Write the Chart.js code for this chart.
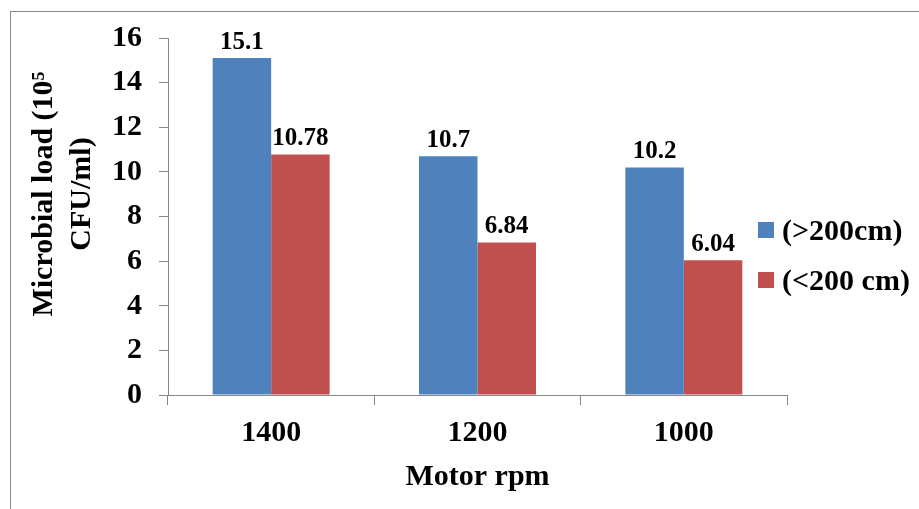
<!DOCTYPE html>
<html>
<head>
<meta charset="utf-8">
<script src="https://cdn.jsdelivr.net/npm/chart.js@4.4.1/dist/chart.umd.min.js"></script>
<style>
  body { margin: 0; background: #fff; }
  #wrap { position: relative; width: 919px; height: 509px; overflow: hidden; }
  #frame { position: absolute; left: 10px; top: 11px; width: 1000px; height: 600px; border: 1.5px solid #8c8c8c; }
  canvas { position: absolute; left: 0; top: 0; }
</style>
</head>
<body>
<div id="wrap">
  <div id="frame"></div>
  <canvas id="rpmChart" width="919" height="509"></canvas>
</div>
<script>
// data
const rpmLabels = ['1400', '1200', '1000'];
const above200 = [15.1, 10.7, 10.2];
const below200 = [10.78, 6.84, 6.04];
const seriesNames = ['(>200cm)', '(<200 cm)'];
const yMin = 0, yMax = 16, yStep = 2;

const serif = '"Liberation Serif", "Times New Roman", serif';
const axisGrey = '#868686';

Chart.defaults.color = '#000';
Chart.defaults.font.family = serif;
Chart.defaults.font.weight = 'bold';

// value labels on top of each bar
const barValues = {
    id: 'barValues',
    afterDatasetsDraw(chart) {
        const ctx = chart.ctx;
        ctx.save();
        ctx.font = 'bold 25px ' + serif;
        ctx.fillStyle = '#000';
        ctx.textAlign = 'center';
        ctx.textBaseline = 'alphabetic';
        chart.data.datasets.forEach((ds, i) => {
            chart.getDatasetMeta(i).data.forEach((bar, j) => {
                ctx.fillText(String(ds.data[j]), bar.x, bar.y - 9);
            });
        });
        ctx.restore();
    }
};

// legend sits over the right end of the plot, like the Excel original
const sideLegend = {
    id: 'sideLegend',
    afterDraw(chart) {
        const ctx = chart.ctx;
        const area = chart.chartArea;
        ctx.save();
        ctx.font = 'bold 30px ' + serif;
        ctx.textBaseline = 'middle';
        ctx.textAlign = 'left';
        chart.data.datasets.forEach((ds, i) => {
            const x = area.right - 29;
            const y = area.top + 192 + i * 50;
            ctx.fillStyle = ds.backgroundColor;
            ctx.fillRect(x, y - 8, 16, 16);
            ctx.fillStyle = '#000';
            ctx.fillText(ds.label, x + 24, y + 2);
        });
        ctx.restore();
    }
};

const pad = '      ';

new Chart(document.getElementById('rpmChart').getContext('2d'), {
    type: 'bar',
    data: {
        labels: rpmLabels,
        datasets: [{
            label: seriesNames[0],
            data: above200,
            backgroundColor: '#4F81BD'
        }, {
            label: seriesNames[1],
            data: below200,
            backgroundColor: '#C0504D'
        }]
    },
    options: {
        responsive: false,
        animation: false,
        categoryPercentage: 0.567,
        barPercentage: 1,
        layout: { padding: { top: 38, right: 132, bottom: 0, left: 0 } },
        plugins: {
            legend: { display: false },
            tooltip: { enabled: false }
        },
        scales: {
            x: {
                afterFit: (scale) => { scale.height = 114; },
                grid: {
                    offset: true,
                    drawOnChartArea: false,
                    tickLength: 10,
                    color: axisGrey
                },
                border: { color: axisGrey, width: 1 },
                ticks: { padding: 10, font: { size: 30, weight: 'bold' } },
                title: {
                    display: true,
                    text: 'Motor rpm',
                    font: { size: 30, weight: 'bold' },
                    padding: { top: 0, bottom: 14 }
                }
            },
            y: {
                min: yMin,
                max: yMax,
                afterFit: (scale) => { scale.width = 168; },
                grid: {
                    drawOnChartArea: false,
                    tickLength: 9,
                    color: axisGrey
                },
                border: { color: axisGrey, width: 1 },
                ticks: { stepSize: yStep, padding: 17, font: { size: 30, weight: 'bold' } },
                title: {
                    display: true,
                    text: [pad + 'Microbial load (10\u2075', pad + 'CFU/ml)'],
                    font: { size: 30, weight: 'bold', lineHeight: 1.27 },
                    padding: { top: 25, bottom: 0 }
                }
            }
        }
    },
    plugins: [barValues, sideLegend]
});
</script>
</body>
</html>
